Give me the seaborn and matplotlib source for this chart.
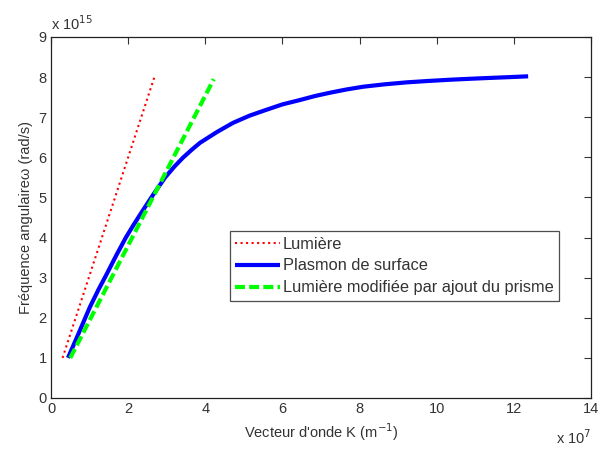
import matplotlib
matplotlib.use("Agg")
import matplotlib.pyplot as plt
import seaborn as sns

# Values in units of 1e7 m^-1 (k) and 1e15 rad/s (omega)
lumiere_k = [0.30, 2.68]
lumiere_w = [1.0, 8.0]

plasmon_k = [0.44, 0.72, 1.01, 1.23, 1.45, 1.70, 1.94, 2.15, 2.35, 2.65,
             2.96, 3.20, 3.42, 3.65, 3.86, 4.30, 4.72, 5.15, 5.60, 6.00,
             6.46, 6.85, 7.23, 7.65, 8.09, 8.65, 9.23, 9.80, 10.35, 10.90,
             11.38, 11.90, 12.37]
plasmon_w = [1.00, 1.62, 2.27, 2.70, 3.10, 3.57, 4.00, 4.33, 4.63, 5.07,
             5.50, 5.77, 5.99, 6.19, 6.36, 6.63, 6.86, 7.04, 7.19, 7.32,
             7.43, 7.53, 7.61, 7.69, 7.76, 7.82, 7.87, 7.905, 7.935, 7.96,
             7.98, 8.00, 8.02]

prisme_k = [0.50, 4.22]
prisme_w = [1.0, 7.95]

x_ticks = [0, 2, 4, 6, 8, 10, 12, 14]
y_ticks = [0, 1, 2, 3, 4, 5, 6, 7, 8, 9]

labels = ["Lumière", "Plasmon de surface", "Lumière modifiée par ajout du prisme"]

sns.set_style("white")
plt.rcParams['font.family'] = ['Liberation Sans', 'DejaVu Sans']
txt = '#333333'

fig = plt.figure(figsize=(6, 4.49), dpi=100)
ax = fig.add_axes([0.085, 0.1136, 0.9, 0.804])

sns.lineplot(x=lumiere_k, y=lumiere_w, ax=ax, color='#ff0000', linestyle=':',
             linewidth=1.5, sort=False, label=labels[0])
sns.lineplot(x=plasmon_k, y=plasmon_w, ax=ax, color='#0000ff', linestyle='-',
             linewidth=3, sort=False, label=labels[1],
             solid_joinstyle='round', solid_capstyle='butt')
sns.lineplot(x=prisme_k, y=prisme_w, ax=ax, color='#00ff00', linestyle=(0, (2.4, 1.0)),
             linewidth=3, sort=False, label=labels[2])

ax.set_xlim(0, 14)
ax.set_ylim(0, 9)
ax.set_xticks(x_ticks)
ax.set_yticks(y_ticks)
ax.set_xticklabels([str(t) for t in x_ticks])
ax.set_yticklabels([str(t) for t in y_ticks])
ax.tick_params(direction='in', length=5, width=0.8, top=True, right=True,
               labelsize=10.5, colors=txt, pad=3)
for s in ax.spines.values():
    s.set_visible(True)
    s.set_color('#222222')
    s.set_linewidth(0.9)

ax.set_xlabel("Vecteur d'onde K (m$^{-1}$)", fontsize=10.5, color=txt, labelpad=4)
ax.set_ylabel("Fréquence angulaireω (rad/s)", fontsize=10.5, color=txt, labelpad=4)

ax.text(0.0, 1.012, "x 10$^{15}$", transform=ax.transAxes, fontsize=10.5,
        color=txt, ha='left', va='bottom')
ax.text(1.0, -0.085, "x 10$^{7}$", transform=ax.transAxes, fontsize=10.5,
        color=txt, ha='right', va='top')

leg = ax.legend(loc='upper left', bbox_to_anchor=(0.331, 0.463), fontsize=11.8,
                frameon=True, fancybox=False, handlelength=2.7, handletextpad=0.2,
                borderpad=0.35, labelspacing=0.42, borderaxespad=0)
leg.get_frame().set_edgecolor('#222222')
leg.get_frame().set_linewidth(0.9)
for t in leg.get_texts():
    t.set_color(txt)

fig.savefig("out.png", dpi=100)
